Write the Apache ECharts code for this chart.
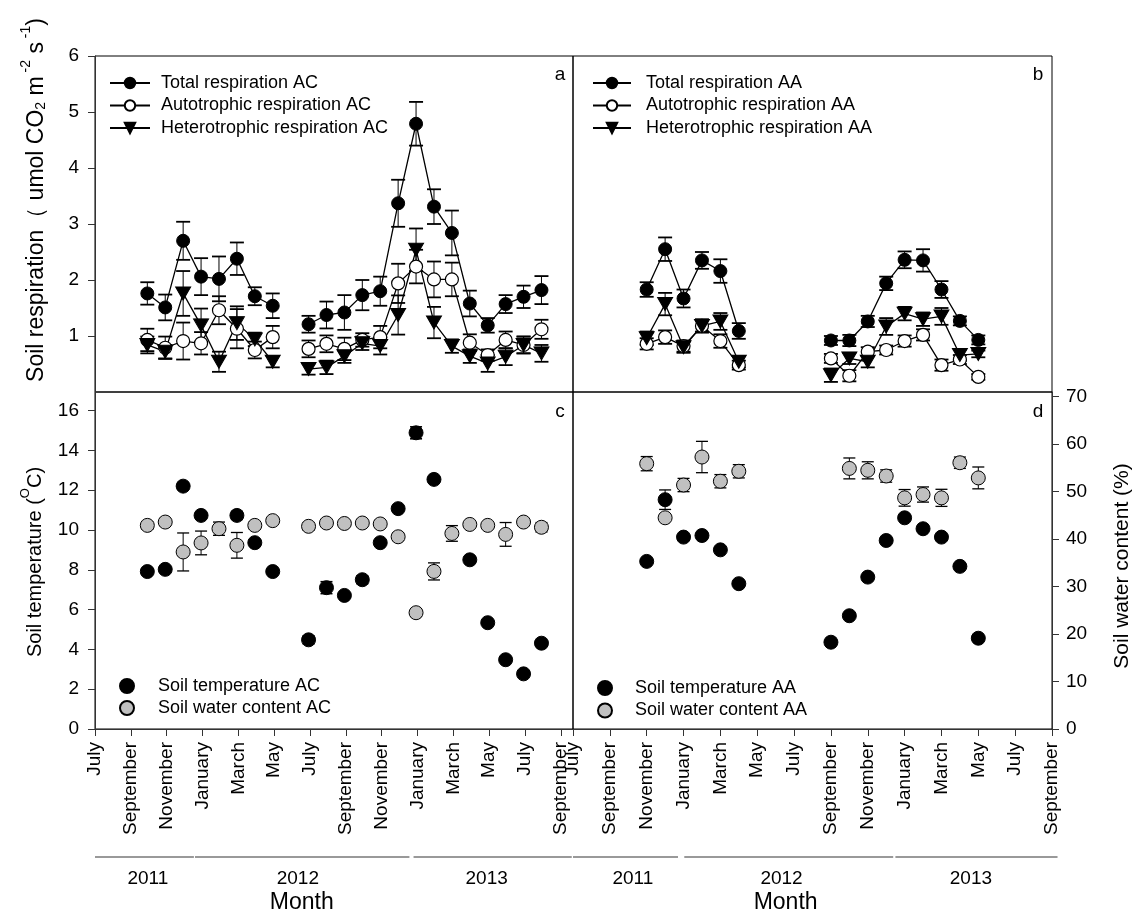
<!DOCTYPE html>
<html><head><meta charset="utf-8">
<script src="https://cdn.jsdelivr.net/npm/echarts@6/dist/echarts.min.js"></script>
<style>html,body{margin:0;padding:0;background:#fff}#c{width:1135px;height:915px}</style>
</head><body><div id="c"></div>
<script>
// ---------- DATA ----------
// x = months since 1 July 2011
const acMonths = [2.92,3.92,4.92,5.92,6.92,7.92,8.92,9.92, 11.92,12.92,13.92,14.92,15.92,16.92,17.92,18.92,19.92,20.92,21.92,22.92,23.92,24.92];
const acBreak = 8;
const totalAC    = [1.76,1.51,2.70,2.06,2.02,2.38,1.71,1.54, 1.21,1.375,1.42,1.73,1.80,3.37,4.79,3.31,2.84,1.58,1.19,1.57,1.70,1.82];
const totalACErr = [0.20,0.23,0.34,0.33,0.40,0.29,0.16,0.22, 0.15,0.24,0.31,0.27,0.26,0.42,0.39,0.31,0.40,0.23,0.13,0.16,0.20,0.25];
const autoAC     = [0.93,0.79,0.91,0.87,1.46,1.13,0.75,0.98, 0.77,0.86,0.77,0.93,0.98,1.94,2.24,2.01,2.01,0.88,0.66,0.93,0.84,1.12];
const autoACErr  = [0.20,0.20,0.33,0.20,0.25,0.35,0.15,0.20, 0.15,0.15,0.20,0.12,0.20,0.35,0.30,0.32,0.30,0.15,0.10,0.15,0.15,0.17];
const heteroAC   = [0.84,0.72,1.76,1.19,0.54,1.23,0.94,0.54, 0.41,0.44,0.64,0.87,0.82,1.375,2.54,1.24,0.82,0.64,0.51,0.63,0.84,0.69];
const heteroACErr= [0.15,0.12,0.40,0.30,0.18,0.30,0.12,0.10, 0.10,0.12,0.12,0.12,0.15,0.35,0.38,0.28,0.12,0.12,0.15,0.15,0.15,0.15];
const tempAC     = [7.91,8.02,12.2,10.73,null,10.73,9.36,7.91, 4.48,7.10,6.71,7.50,9.36,11.07,14.88,12.54,null,8.50,5.34,3.48,2.77,4.31];
const tempACErr  = [0.15,0.15,0.15,0.15,null,0.20,0.15,0.10, 0.20,0.30,0.10,0.20,0.10,0.10,0.30,0.10,null,0.15,0.10,0.10,0.15,0.10];
const waterAC    = [42.9,43.6,37.3,39.2,42.2,38.7,42.9,43.9, 42.7,43.4,43.3,43.4,43.2,40.5,24.5,33.2,41.2,43.1,42.9,41.0,43.6,42.5];
const waterACErr = [0.8,0.6,4.0,2.5,1.4,2.7,0.8,0.6, 0.8,0.6,0.5,0.5,0.6,0.8,0.8,1.8,1.65,0.5,0.6,2.5,0.6,1.0];

const aaMonths = [4,5,6,7,8,9, 14,15,16,17,18,19,20,21,22];
const aaBreak = 6;
const totalAA    = [1.83,2.55,1.67,2.35,2.16,1.09, 0.92,0.92,1.26,1.94,2.36,2.35,1.83,1.27,0.93];
const totalAAErr = [0.13,0.21,0.16,0.15,0.21,0.14, 0.08,0.10,0.10,0.12,0.15,0.20,0.15,0.08,0.08];
const autoAA     = [0.86,0.98,0.82,1.18,0.91,0.48, 0.60,0.29,0.72,0.75,0.91,1.02,0.48,0.58,0.27];
const autoAAErr  = [0.10,0.12,0.10,0.12,0.12,0.08, 0.08,0.10,0.08,0.08,0.10,0.10,0.10,0.08,0.05];
const heteroAA   = [0.96,1.57,0.80,1.18,1.26,0.54, 0.30,0.60,0.54,1.17,1.40,1.30,1.35,0.66,0.68];
const heteroAAErr= [0.12,0.20,0.10,0.10,0.15,0.10, 0.12,0.10,0.10,0.15,0.12,0.12,0.15,0.10,0.06];
const tempAA     = [8.42,11.52,9.64,9.72,9.00,7.30, 4.36,5.69,7.63,9.47,10.61,10.06,9.64,8.17,4.56];
const tempAAErr  = [0.10,0.49,0.10,0.10,0.10,0.10, 0.10,0.10,0.10,0.10,0.10,0.10,0.10,0.10,0.10];
const waterAA    = [55.9,44.5,51.4,57.3,52.2,54.3, null,54.9,54.5,53.3,48.7,49.4,48.7,56.1,52.9];
const waterAAErr = [1.5,0.5,1.4,3.3,1.4,1.4, null,2.2,1.8,1.3,1.75,1.6,1.8,1.2,2.3];

const xTickMonths = [0,2,4,6,8,10,12,14,16,18,20,22,24,26];
const monthNames = ['July','September','November','January','March','May','July','September','November','January','March','May','July','September'];
const respTicks = [1,2,3,4,5,6];
const tempTicks = [0,2,4,6,8,10,12,14,16];
const waterTicks = [0,10,20,30,40,50,60,70];
const years = ['2011','2012','2013'];
const yearSegLeft = [[0,5.52],[5.58,17.55],[17.78,26.61]];
const yearLabLeft = [2.95,11.32,21.86];
const yearSegRight = [[0,5.7],[6.04,17.38],[17.5,26.3]];
const yearLabRight = [3.25,11.32,21.6];
const monthTitleAt = 11.54;

// ---------- CHART ----------
const FONT = '"Liberation Sans", Arial, sans-serif';
const chart = echarts.init(document.getElementById('c'), null, {renderer:'canvas'});

function lineData(months, vals, brk){
  const d = [];
  months.forEach((m,i)=>{
    if (i === brk) d.push([(months[i-1]+m)/2, '-']);
    d.push([m, vals[i] == null ? '-' : vals[i]]);
  });
  return d;
}
function ptData(months, vals){
  return months.map((m,i)=>[m, vals[i] == null ? '-' : vals[i]]);
}
function errSeries(xi, yi, months, vals, errs, cap, lw, z){
  const data = [];
  months.forEach((m,i)=>{ if (vals[i]!=null && errs[i]!=null) data.push([m, vals[i]-errs[i], vals[i]+errs[i]]); });
  return {
    type:'custom', xAxisIndex:xi, yAxisIndex:yi, z:z, silent:true, clip:false,
    encode:{x:0, y:[1,2]}, data:data,
    renderItem(params, api){
      const x = api.value(0), lo = api.value(1), hi = api.value(2);
      const p1 = api.coord([x, lo]), p2 = api.coord([x, hi]);
      const st = {stroke:'#000', lineWidth:lw};
      return {type:'group', children:[
        {type:'line', shape:{x1:p1[0],y1:p1[1],x2:p2[0],y2:p2[1]}, style:{stroke:'#000', lineWidth:1}},
        {type:'line', shape:{x1:p1[0]-cap,y1:p1[1],x2:p1[0]+cap,y2:p1[1]}, style:st},
        {type:'line', shape:{x1:p2[0]-cap,y1:p2[1],x2:p2[0]+cap,y2:p2[1]}, style:st}
      ]};
    }
  };
}
function lineSeries(name, xi, yi, months, vals, brk, kind){
  const s = {
    name, type:'line', xAxisIndex:xi, yAxisIndex:yi, z:3,
    data: lineData(months, vals, brk), connectNulls:false,
    lineStyle:{color:'#000', width:1.3}, symbolSize:13,
    emphasis:{disabled:true}, animation:false
  };
  if (kind === 'total'){ s.symbol='circle'; s.itemStyle={color:'#000', borderColor:'#000', borderWidth:1, opacity:1}; }
  if (kind === 'auto'){ s.symbol='circle'; s.itemStyle={color:'#fff', borderColor:'#000', borderWidth:1.2, opacity:1}; }
  if (kind === 'hetero'){ s.symbol='triangle'; s.symbolRotate=180; s.symbolSize=[15,13]; s.itemStyle={color:'#000', borderColor:'#000', borderWidth:1, opacity:1}; }
  return s;
}
function scatterSeries(name, xi, yi, months, vals, grey, z){
  return {
    name, type:'scatter', xAxisIndex:xi, yAxisIndex:yi, z:z,
    data: ptData(months, vals), symbol:'circle', symbolSize:14,
    itemStyle: grey ? {color:'#c0c0c0', borderColor:'#000', borderWidth:1, opacity:1} : {color:'#000', borderColor:'#000', borderWidth:1, opacity:1},
    emphasis:{disabled:true}, animation:false
  };
}
function monthLabel(v){
  const i = xTickMonths.indexOf(v);
  return i >= 0 ? monthNames[i] : '';
}
const axisLineStyle = {lineStyle:{color:'#333', width:1}};
function xAxisBottom(grid, max){
  return {type:'value', gridIndex:grid, min:0, max:max, interval:2,
    axisLine:{show:true, ...axisLineStyle},
    axisTick:{show:true, inside:false, length:7, lineStyle:{color:'#333'}, customValues:xTickMonths},
    axisLabel:{show:true, rotate:90, margin:13, fontSize:19, fontFamily:FONT, color:'#000',
      customValues:xTickMonths, formatter:monthLabel},
    splitLine:{show:false}};
}
function xAxisHidden(grid, max){
  return {type:'value', gridIndex:grid, min:0, max:max, show:false, splitLine:{show:false}};
}

const legendText = {fontSize:18, fontFamily:FONT, color:'#000', lineHeight:18};

const option = {
  animation:false,
  backgroundColor:'#fff',
  grid:[
    {left:95, top:56, width:478, height:336, show:true, borderColor:'#000', borderWidth:1},
    {left:573, top:56, width:479, height:336, show:true, borderColor:'#000', borderWidth:1},
    {left:95, top:392, width:478, height:337, show:true, borderColor:'#000', borderWidth:1},
    {left:573, top:392, width:479, height:337, show:true, borderColor:'#000', borderWidth:1}
  ],
  xAxis:[
    xAxisHidden(0, 26.68),
    xAxisHidden(1, 26),
    xAxisBottom(2, 26.68),
    xAxisBottom(3, 26)
  ],
  yAxis:[
    {type:'value', gridIndex:0, min:0, max:6, interval:1,
      axisLine:{show:true, ...axisLineStyle},
      axisTick:{show:true, inside:false, length:7, lineStyle:{color:'#333'}, customValues:respTicks},
      axisLabel:{margin:16, fontSize:19, fontFamily:FONT, color:'#000', customValues:respTicks,
        formatter:v=> respTicks.indexOf(v)>=0 ? String(v) : ''},
      splitLine:{show:false}},
    {type:'value', gridIndex:1, min:0, max:6, show:false, splitLine:{show:false}},
    {type:'value', gridIndex:2, min:0, max:16.93, interval:2,
      axisLine:{show:true, ...axisLineStyle},
      axisTick:{show:true, inside:false, length:7, lineStyle:{color:'#333'}, customValues:tempTicks},
      axisLabel:{margin:16, fontSize:19, fontFamily:FONT, color:'#000', customValues:tempTicks,
        formatter:v=> tempTicks.indexOf(v)>=0 ? String(v) : ''},
      splitLine:{show:false}},
    {type:'value', gridIndex:2, min:0, max:71, show:false, splitLine:{show:false}},
    {type:'value', gridIndex:3, min:0, max:16.93, show:false, splitLine:{show:false}},
    {type:'value', gridIndex:3, min:0, max:71, interval:10, position:'right',
      axisLine:{show:true, ...axisLineStyle},
      axisTick:{show:true, inside:false, length:7, lineStyle:{color:'#333'}, customValues:waterTicks},
      axisLabel:{margin:14, fontSize:19, fontFamily:FONT, color:'#000', customValues:waterTicks,
        formatter:v=> waterTicks.indexOf(v)>=0 ? String(v) : ''},
      splitLine:{show:false}}
  ],
  legend:[
    {left:104, top:69, orient:'vertical', itemWidth:40, itemHeight:13, itemGap:4.5,
      textStyle:{...legendText, padding:[0,0,0,6]}, selectedMode:false,
      data:['Total respiration AC','Autotrophic respiration AC','Heterotrophic respiration AC']},
    {left:587, top:69, orient:'vertical', itemWidth:38, itemHeight:13, itemGap:4.5,
      textStyle:{...legendText, padding:[0,0,0,10]}, selectedMode:false,
      data:['Total respiration AA','Autotrophic respiration AA','Heterotrophic respiration AA']},
    {left:114, top:672, orient:'vertical', itemWidth:26, itemHeight:14, itemGap:4,
      textStyle:{...legendText, padding:[0,0,0,13]}, selectedMode:false,
      data:['Soil temperature AC','Soil water content AC']},
    {left:592, top:674, orient:'vertical', itemWidth:26, itemHeight:14, itemGap:4.5,
      textStyle:{...legendText, padding:[0,0,0,12]}, selectedMode:false,
      data:['Soil temperature AA','Soil water content AA']}
  ],
  series:[
    // panel a
    errSeries(0,0,acMonths,totalAC,totalACErr,7,1.8,2),
    errSeries(0,0,acMonths,autoAC,autoACErr,7,1.8,2),
    errSeries(0,0,acMonths,heteroAC,heteroACErr,7,1.8,2),
    lineSeries('Total respiration AC',0,0,acMonths,totalAC,acBreak,'total'),
    lineSeries('Autotrophic respiration AC',0,0,acMonths,autoAC,acBreak,'auto'),
    lineSeries('Heterotrophic respiration AC',0,0,acMonths,heteroAC,acBreak,'hetero'),
    // panel b
    errSeries(1,1,aaMonths,totalAA,totalAAErr,7,1.8,2),
    errSeries(1,1,aaMonths,autoAA,autoAAErr,7,1.8,2),
    errSeries(1,1,aaMonths,heteroAA,heteroAAErr,7,1.8,2),
    lineSeries('Total respiration AA',1,1,aaMonths,totalAA,aaBreak,'total'),
    lineSeries('Autotrophic respiration AA',1,1,aaMonths,autoAA,aaBreak,'auto'),
    lineSeries('Heterotrophic respiration AA',1,1,aaMonths,heteroAA,aaBreak,'hetero'),
    // panel c
    errSeries(2,2,acMonths,tempAC,tempACErr,6,1.6,2),
    scatterSeries('Soil temperature AC',2,2,acMonths,tempAC,false,3),
    errSeries(2,3,acMonths,waterAC,waterACErr,6,1.3,4),
    scatterSeries('Soil water content AC',2,3,acMonths,waterAC,true,5),
    // panel d
    errSeries(3,4,aaMonths,tempAA,tempAAErr,6,1.3,2),
    scatterSeries('Soil temperature AA',3,4,aaMonths,tempAA,false,3),
    errSeries(3,5,aaMonths,waterAA,waterAAErr,6,1.3,4),
    scatterSeries('Soil water content AA',3,5,aaMonths,waterAA,true,5)
  ]
};
chart.setOption(option);

// ---------- annotations (positions through the axes' scales) ----------
function rich(size, sub){
  return {
    n:{fontSize:size, fontFamily:FONT, color:'#000', lineHeight:size+8, verticalAlign:'bottom'},
    sup:{fontSize:sub, fontFamily:FONT, color:'#000', lineHeight:size+8, verticalAlign:'top', padding:[2,0,0,0]},
    sub:{fontSize:sub, fontFamily:FONT, color:'#000', lineHeight:size+8, verticalAlign:'bottom'}
  };
}
const g = [];
function txt(x, y, text, size, rot, richStyle){
  const el = {type:'text', x:x, y:y, rotation:rot||0, z:10,
    style:{text:text, fontSize:size, fontFamily:FONT, fill:'#000', align:'center', verticalAlign:'middle'}};
  if (richStyle) el.style.rich = richStyle;
  g.push(el);
}
txt(33, 200, '{n|Soil respiration（ umol CO}{sub|2}{n| m}{sup| -2}{n| s}{sup| -1}{n|)}', 23, Math.PI/2, rich(23, 14));
txt(31, 562, '{n|Soil temperature (}{sup|O}{n|C)}', 20, Math.PI/2, rich(20, 13));
txt(1122, 566, 'Soil water content (%)', 21, Math.PI/2);
txt(560, 75, 'a', 19); txt(1038, 75, 'b', 19); txt(560, 412, 'c', 19); txt(1038, 412, 'd', 19);

function yearRow(xi, segs, labs){
  segs.forEach((s,i)=>{
    const x1 = chart.convertToPixel({xAxisIndex:xi}, s[0]);
    const x2 = chart.convertToPixel({xAxisIndex:xi}, s[1]);
    g.push({type:'line', z:10, shape:{x1:x1, y1:857, x2:x2, y2:857}, style:{stroke:'#777', lineWidth:1.5}});
    txt(chart.convertToPixel({xAxisIndex:xi}, labs[i]), 879, years[i], 19);
  });
  txt(chart.convertToPixel({xAxisIndex:xi}, monthTitleAt), 903, 'Month', 23);
}
yearRow(2, yearSegLeft, yearLabLeft);
yearRow(3, yearSegRight, yearLabRight);
chart.setOption({graphic:g});
</script>
</body></html>
